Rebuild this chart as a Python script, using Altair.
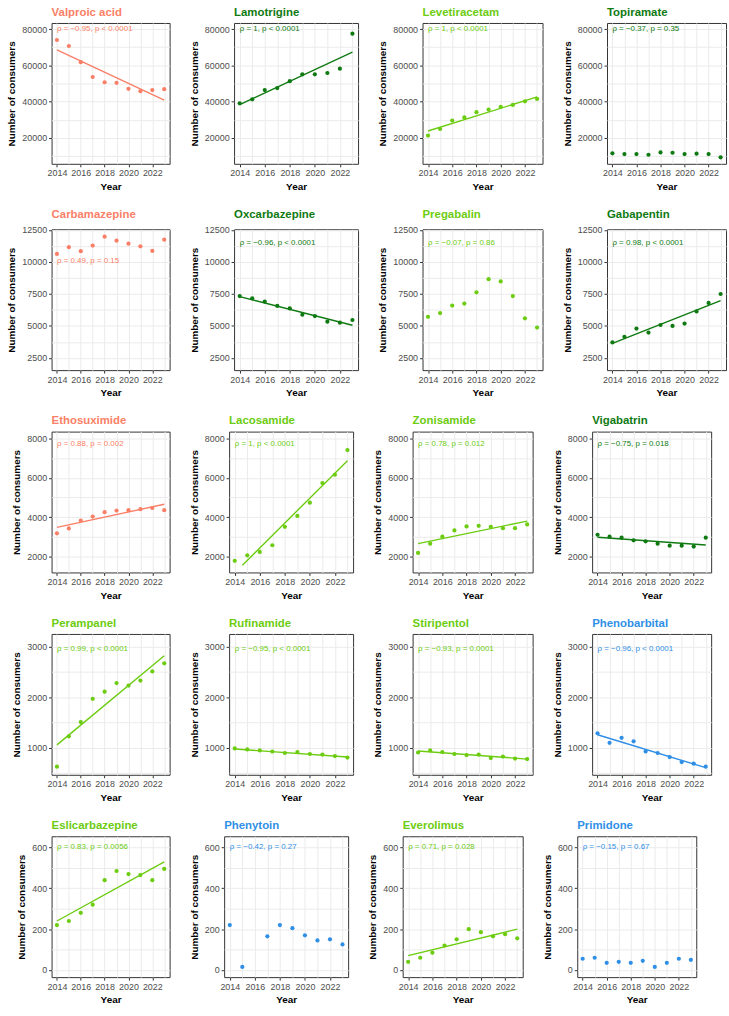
import altair as alt
import pandas as pd

years = list(range(2014, 2024))

# ---- values (number of consumers per year) ----
valproic_acid = [74000, 70700, 61800, 53600, 50700, 50400, 47100, 45800, 46400, 46900]
lamotrigine = [39100, 41300, 46400, 47500, 51300, 55100, 55100, 55800, 58200, 77500]
levetiracetam = [21300, 24900, 29600, 31300, 34200, 35600, 37100, 38200, 40200, 41500]
topiramate = [11500, 11100, 11100, 10700, 12000, 11800, 11100, 11300, 11100, 9300]

carbamazepine = [10620, 11140, 10830, 11270, 11960, 11650, 11420, 11210, 10850, 11730]
oxcarbazepine = [7330, 7150, 6900, 6560, 6360, 5870, 5770, 5330, 5250, 5460]
pregabalin = [5710, 6000, 6590, 6740, 7620, 8650, 8470, 7330, 5590, 4870]
gabapentin = [3710, 4150, 4790, 4480, 5070, 5000, 5180, 6130, 6790, 7490]

ethosuximide = [3190, 3440, 3840, 4040, 4260, 4340, 4360, 4410, 4470, 4360]
lacosamide = [1800, 2080, 2250, 2590, 3520, 4070, 4740, 5730, 6150, 7400]
zonisamide = [2200, 2670, 3020, 3340, 3540, 3570, 3520, 3450, 3450, 3640]
vigabatrin = [3120, 3020, 2970, 2840, 2790, 2670, 2570, 2570, 2520, 2970]

perampanel = [630, 1230, 1510, 1970, 2110, 2280, 2230, 2330, 2510, 2670]
rufinamide = [990, 970, 950, 930, 900, 920, 880, 870, 840, 810]
stiripentol = [910, 950, 920, 880, 860, 870, 800, 830, 790, 780]
phenobarbital = [1290, 1100, 1200, 1130, 930, 900, 820, 720, 690, 630]

eslicarbazepine = [220, 240, 280, 320, 440, 485, 470, 465, 440, 495]
phenytoin = [220, 15, None, 165, 220, 205, 170, 145, 150, 125]
everolimus = [40, 60, 85, 120, 150, 200, 185, 165, 175, 155]
primidone = [55, 60, 35, 40, 35, 45, 15, 35, 55, 50]

# ---- fitted trend-line end points (x, y) ----
fits = {
    "Valproic acid": ([2014, 2023], [68500, 40900]),
    "Lamotrigine": ([2014, 2023], [38400, 67300]),
    "Levetiracetam": ([2014, 2023], [23800, 42600]),
    "Oxcarbazepine": ([2014, 2023], [7280, 5050]),
    "Gabapentin": ([2014, 2023], [3630, 6970]),
    "Ethosuximide": ([2014, 2023], [3490, 4660]),
    "Lacosamide": ([2014.61, 2023], [1580, 6860]),
    "Zonisamide": ([2014, 2023], [2670, 3810]),
    "Vigabatrin": ([2014, 2023], [2990, 2600]),
    "Perampanel": ([2014, 2023], [1060, 2820]),
    "Rufinamide": ([2014, 2023], [980, 820]),
    "Stiripentol": ([2014, 2023], [940, 780]),
    "Phenobarbital": ([2014, 2023], [1260, 610]),
    "Eslicarbazepine": ([2014, 2023], [240, 530]),
    "Everolimus": ([2014, 2023], [70, 200]),
}

SALMON = "#FA7F67"
DKGREEN = "#0F7A12"
LTGREEN = "#6CCC10"
BLUE = "#2F8FE6"

# name, color, values, annotation, annotation y, row
panels = [
    ("Valproic acid", SALMON, valproic_acid, "ρ = −0.95, p < 0.0001", 80000, 0),
    ("Lamotrigine", DKGREEN, lamotrigine, "ρ = 1, p < 0.0001", 80000, 0),
    ("Levetiracetam", LTGREEN, levetiracetam, "ρ = 1, p < 0.0001", 80000, 0),
    ("Topiramate", DKGREEN, topiramate, "ρ = −0.37, p = 0.35", 80000, 0),
    ("Carbamazepine", SALMON, carbamazepine, "ρ = 0.49, p = 0.15", 10080, 1),
    ("Oxcarbazepine", DKGREEN, oxcarbazepine, "ρ = −0.96, p < 0.0001", 11500, 1),
    ("Pregabalin", LTGREEN, pregabalin, "ρ = −0.07, p = 0.86", 11500, 1),
    ("Gabapentin", DKGREEN, gabapentin, "ρ = 0.98, p < 0.0001", 11500, 1),
    ("Ethosuximide", SALMON, ethosuximide, "ρ = 0.88, p = 0.002", 7700, 2),
    ("Lacosamide", LTGREEN, lacosamide, "ρ = 1, p < 0.0001", 7700, 2),
    ("Zonisamide", LTGREEN, zonisamide, "ρ = 0.78, p = 0.012", 7700, 2),
    ("Vigabatrin", DKGREEN, vigabatrin, "ρ = −0.75, p = 0.018", 7700, 2),
    ("Perampanel", LTGREEN, perampanel, "ρ = 0.99, p < 0.0001", 2950, 3),
    ("Rufinamide", LTGREEN, rufinamide, "ρ = −0.95, p < 0.0001", 2950, 3),
    ("Stiripentol", LTGREEN, stiripentol, "ρ = −0.93, p = 0.0001", 2950, 3),
    ("Phenobarbital", BLUE, phenobarbital, "ρ = −0.96, p < 0.0001", 2950, 3),
    ("Eslicarbazepine", LTGREEN, eslicarbazepine, "ρ = 0.83, p = 0.0056", 600, 4),
    ("Phenytoin", BLUE, phenytoin, "ρ = −0.42, p = 0.27", 600, 4),
    ("Everolimus", LTGREEN, everolimus, "ρ = 0.71, p = 0.028", 600, 4),
    ("Primidone", BLUE, primidone, "ρ = −0.15, p = 0.67", 600, 4),
]

# per-row y domain, major breaks, minor breaks
rows = [
    ([5700, 83400], [20000, 40000, 60000, 80000], [10000, 30000, 50000, 70000]),
    ([1550, 12540], [2500, 5000, 7500, 10000, 12500], [3750, 6250, 8750, 11250]),
    ([1215, 8330], [2000, 4000, 6000, 8000], [3000, 5000, 7000]),
    ([470, 3250], [1000, 2000, 3000], [500, 1500, 2500]),
    ([-35, 655], [0, 200, 400, 600], [100, 300, 500]),
]

FONT = "Liberation Sans"
COL_W = [119, 125, 121, 120]
H = 142


def make_panel(name, color, vals, ann, ann_y, row, width):
    dom, major, minor = rows[row]
    pts = pd.DataFrame({"Year": years, "Consumers": vals}).dropna()
    major_str = ",".join(str(v) for v in major)
    x = alt.X(
        "Year:Q",
        scale=alt.Scale(domain=[2013.55, 2023.45], nice=False, zero=False),
        axis=alt.Axis(
            values=years,
            labelExpr="datum.value % 2 == 0 ? datum.label : ''",
            format="d",
            title="Year",
            tickColor={"condition": {"test": "datum.value % 2 == 0", "value": "#333333"}, "value": "transparent"},
        ),
    )
    y = alt.Y(
        "Consumers:Q",
        scale=alt.Scale(domain=dom, nice=False, zero=False),
        axis=alt.Axis(
            values=sorted(major + minor),
            labelExpr=f"indexof([{major_str}], datum.value) >= 0 ? datum.label : ''",
            format="d",
            title="Number of consumers",
            tickColor={"condition": {"test": f"indexof([{major_str}], datum.value) >= 0", "value": "#333333"}, "value": "transparent"},
        ),
    )
    layers = [alt.Chart(pts).mark_circle(size=18, opacity=1, color=color).encode(x=x, y=y)]
    if name in fits:
        fx, fy = fits[name]
        fdf = pd.DataFrame({"Year": fx, "Consumers": fy})
        layers.append(alt.Chart(fdf).mark_line(color=color, strokeWidth=1.4).encode(x=x, y=y))
    tdf = pd.DataFrame({"Year": [2014], "Consumers": [ann_y], "label": [ann]})
    layers.append(
        alt.Chart(tdf)
        .mark_text(align="left", baseline="middle", fontSize=8, font=FONT, color=color)
        .encode(x=x, y=y, text="label:N")
    )
    return alt.layer(*layers).properties(
        width=width,
        height=H,
        title=alt.TitleParams(
            text=name, color=color, fontSize=11.5, fontWeight="bold", font=FONT,
            anchor="start", frame="group", offset=5,
        ),
    )


row_charts = []
for r in range(5):
    row_panels = [p for p in panels if p[5] == r]
    charts = [make_panel(*p, COL_W[i]) for i, p in enumerate(row_panels)]
    row_charts.append(alt.hconcat(*charts, spacing=18))

chart = (
    alt.vconcat(*row_charts, spacing=16)
    .properties(padding={"left": 6, "top": 2, "right": 2, "bottom": 2}, background="white")
    .configure_view(stroke="#333333", strokeWidth=1)
    .configure_axis(
        grid=True,
        gridColor="#ebebeb",
        gridWidth=1,
        domain=False,
        tickSize=3,
        labelFont=FONT,
        labelFontSize=9,
        labelColor="#4d4d4d",
        labelPadding=2,
        titleFont=FONT,
        titleFontSize=10,
        titleFontWeight="bold",
        titleColor="#000000",
        labelOverlap=False,
    )
    .configure_axisY(titlePadding=5)
    .configure_axisX(titlePadding=4)
)

chart.save("out.html", embed_options={"renderer": "svg", "actions": False})
